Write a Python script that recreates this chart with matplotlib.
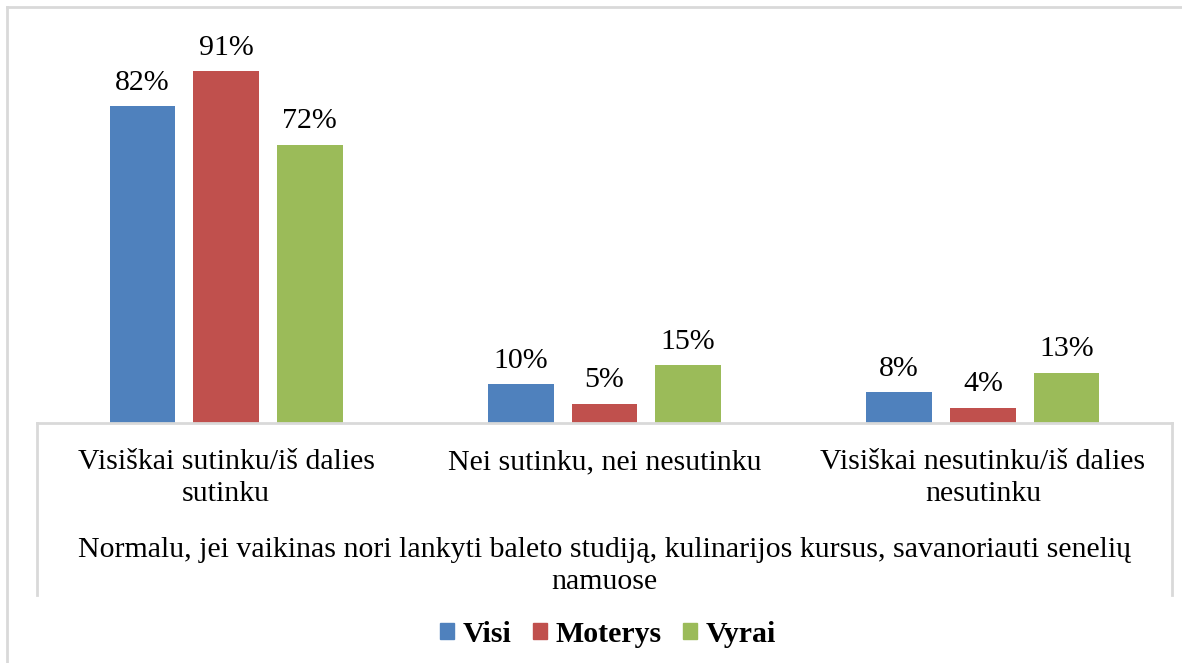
import matplotlib

matplotlib.use("Agg")
import matplotlib.pyplot as plt
from matplotlib.lines import Line2D
from matplotlib.patches import Patch

categories = ["Visiškai sutinku/iš dalies\nsutinku", "Nei sutinku, nei nesutinku", "Visiškai nesutinku/iš dalies\nnesutinku"]
series_names = ["Visi", "Moterys", "Vyrai"]
visi = [82, 10, 8]
moterys = [91, 5, 4]
vyrai = [72, 15, 13]
axis_title = "Normalu, jei vaikinas nori lankyti baleto studiją, kulinarijos kursus, savanoriauti senelių\nnamuose"
colors = ["#4F81BD", "#C0504D", "#9BBB59"]
grid_color = "#d9d9d9"

plt.rcParams["font.family"] = ["Liberation Serif", "DejaVu Serif"]

W, H = 1182, 663
figure = plt.figure(figsize=(W / 100, H / 100), dpi=100)
axis_left, axis_right, axis_base, axis_top = 37, 1172, 423, 36.4
axis = figure.add_axes([axis_left / W, (H - axis_base) / H, (axis_right - axis_left) / W, (axis_base - axis_top) / H])

width = 0.174
step = 0.221
for offset, name, values, color in zip((-step, 0, step), series_names, (visi, moterys, vyrai), colors):
    positions = [index + offset for index in range(len(categories))]
    bars = axis.bar(positions, values, width=width, color=color, label=name, zorder=2)
    for bar, value in zip(bars, values):
        axis.annotate(f"{value}%", (bar.get_x() + bar.get_width() / 2, value), xytext=(0, 7.5), textcoords="offset points", ha="center", va="bottom", fontsize=21.5)

axis.set_xlim(-0.5, 2.5)
axis.set_ylim(0, 100)
for side in ("left", "right", "top"):
    axis.spines[side].set_visible(False)
axis.spines["bottom"].set_color(grid_color)
axis.spines["bottom"].set_linewidth(2)
axis.set_yticks([])
axis.set_xticks(range(len(categories)), categories, fontsize=21.5, linespacing=1.3)
axis.tick_params(axis="x", length=0, pad=19)
axis.set_xlabel(axis_title, fontsize=21.5, labelpad=21, linespacing=1.3)

box_depth = (595 - axis_base) / (axis_base - axis_top)
for x in (0, 1):
    axis.add_line(Line2D([x, x], [0, -box_depth], transform=axis.transAxes, color=grid_color, linewidth=2, clip_on=False))

# outer chart frame, cut at right and bottom
figure.add_artist(Line2D([7 / W, 1], [1 - 7 / H, 1 - 7 / H], transform=figure.transFigure, color=grid_color, linewidth=2))
figure.add_artist(Line2D([7 / W, 7 / W], [0, 1 - 7 / H], transform=figure.transFigure, color=grid_color, linewidth=2))

handles = [Patch(color=color, label=name) for name, color in zip(series_names, colors)]
figure.legend(handles=handles, loc="center", bbox_to_anchor=(608 / W, 1 - 634 / H), ncol=3, frameon=False,
              prop={"weight": "bold", "size": 21.5}, handlelength=0.47, handleheight=0.47, handletextpad=0.27, columnspacing=0.73)

figure.savefig("out.png", dpi=100)
plt.close(figure)
